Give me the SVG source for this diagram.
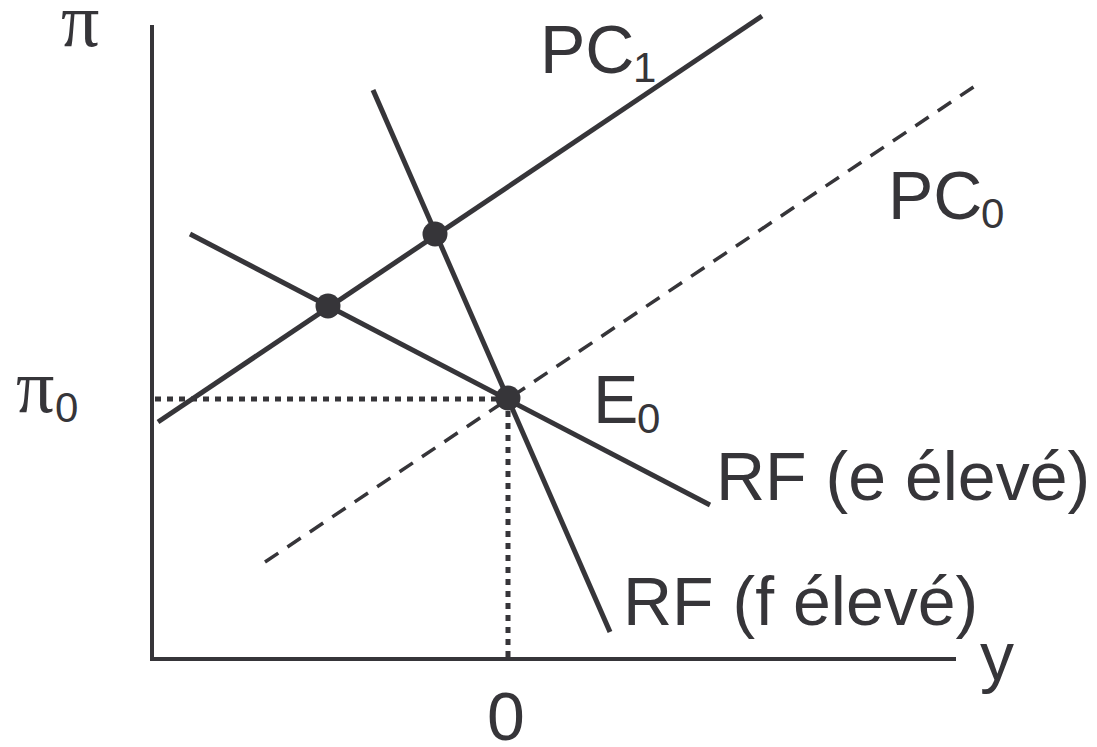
<svg xmlns="http://www.w3.org/2000/svg" width="1097" height="747" viewBox="0 0 1097 747">
<style>
.ax{stroke:#363539;stroke-width:4;fill:none}
.ln{stroke:#363539;stroke-width:5;fill:none}
.dash{stroke:#363539;stroke-width:3.5;fill:none;stroke-dasharray:16 11}
.dot{stroke:#363539;stroke-width:5;fill:none;stroke-dasharray:6 6}
.pt{fill:#363539}
.t{font-family:"Liberation Sans",Arial,sans-serif;font-size:68px;fill:#363539}
.s{font-family:"Liberation Sans",Arial,sans-serif;font-size:42px;fill:#363539}
.g{font-family:"Liberation Serif","Times New Roman",serif;font-size:76px;fill:#363539}
</style>
<rect width="1097" height="747" fill="#ffffff"/>
<g id="connectors">
<line id="axis-y" class="ax" x1="152" y1="25" x2="152" y2="661"/>
<line id="axis-x" class="ax" x1="150" y1="659" x2="956" y2="659"/>
<line id="guide-h" class="dot" x1="155" y1="399" x2="508" y2="399"/>
<line id="guide-v" class="dot" x1="508" y1="399" x2="508" y2="657"/>
<line id="PC0" class="dash" x1="265" y1="562" x2="975" y2="86"/>
<line id="PC1" class="ln" x1="158" y1="422" x2="762" y2="16"/>
<line id="RF-e" class="ln" x1="190" y1="234" x2="710" y2="505"/>
<line id="RF-f" class="ln" x1="373" y1="90" x2="610" y2="632"/>
</g>
<g id="point-A"><circle class="pt" cx="328" cy="306" r="12.5"/></g>
<g id="point-B"><circle class="pt" cx="435" cy="234" r="12.5"/></g>
<g id="point-E0"><circle class="pt" cx="508" cy="398" r="12.5"/></g>
<g id="labels">
<text class="g" x="61" y="46">π</text>
<text class="g" x="16" y="412">π</text><text class="s" x="55" y="422">0</text>
<text class="t" x="540" y="73">PC</text><text class="s" x="633" y="82">1</text>
<text class="t" x="888" y="219">PC</text><text class="s" x="981" y="228">0</text>
<text class="t" x="593" y="423">E</text><text class="s" x="637" y="433">0</text>
<text class="t" x="716" y="500">RF (e élevé)</text>
<text class="t" x="623" y="625">RF (f élevé)</text>
<text class="t" x="980" y="680">y</text>
<text class="t" x="487" y="740">0</text>
</g>
</svg>
